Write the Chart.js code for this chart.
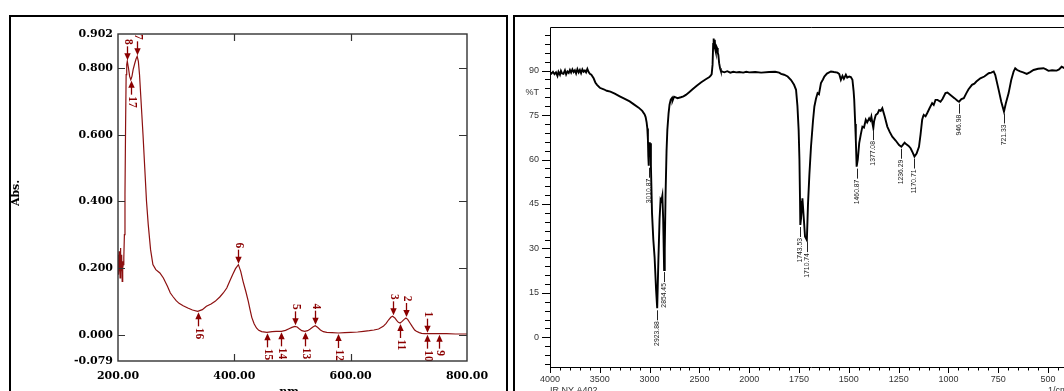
<!DOCTYPE html>
<html><head><meta charset="utf-8">
<script src="https://cdn.jsdelivr.net/npm/chart.js@4/dist/chart.umd.min.js"></script>
<style>
html,body{margin:0;padding:0;background:#fff;overflow:hidden;width:1064px;height:391px}
#wrap{position:relative;width:1064px;height:391px;overflow:hidden;background:#fff}
#uv{position:absolute;left:0;top:0}
#ir{position:absolute;left:511px;top:0}
</style></head>
<body><div id="wrap"><canvas id="uv" width="511" height="391"></canvas><canvas id="ir" width="589" height="391"></canvas></div>
<script>
// ---------- UV-Vis spectrum (left) ----------
const uvNm = [200,200.6,201.2,201.8,202.4,203,203.6,204.2,204.8,205.4,206,206.6,207.2,207.8,208.4,209,210,211,212,213,214,215,216,218,220,222,224,226,229,231,233,235,237,239,241,243,246,249,252,256,260,265,272,278,285,290,295,300,305,312,320,328,337,345,352,360,367,375,381,387,392,397,402,407,411,415,420,424,427,430,434,438,442,447,456,465,472,481,488,494,499,504,508,512,516,521,526,530,535,539,543,548,553,559,568,579,590,600,612,622,632,640,648,656,661,665,669,672,676,679,682,685,688,692,695,698,702,706,710,713,718,722,727,731,740,752,765,780,800];
const uvAbs = [0.20,0.24,0.18,0.25,0.19,0.23,0.17,0.26,0.20,0.22,0.19,0.24,0.16,0.22,0.20,0.21,0.23,0.30,0.42,0.62,0.78,0.81,0.82,0.80,0.775,0.765,0.775,0.795,0.815,0.827,0.835,0.82,0.78,0.72,0.66,0.60,0.50,0.40,0.33,0.255,0.21,0.195,0.185,0.17,0.145,0.125,0.113,0.102,0.094,0.087,0.08,0.074,0.07,0.075,0.085,0.092,0.10,0.113,0.125,0.14,0.16,0.18,0.198,0.21,0.19,0.16,0.128,0.10,0.075,0.052,0.033,0.02,0.013,0.009,0.007,0.009,0.010,0.010,0.013,0.018,0.022,0.025,0.023,0.017,0.012,0.010,0.012,0.016,0.023,0.027,0.022,0.014,0.009,0.007,0.006,0.005,0.006,0.007,0.008,0.010,0.012,0.014,0.017,0.025,0.034,0.044,0.052,0.055,0.050,0.043,0.037,0.035,0.039,0.046,0.050,0.046,0.035,0.024,0.014,0.010,0.006,0.004,0.003,0.003,0.003,0.003,0.003,0.002,0.002];
const uvXTicks = [200,400,600,800];
const uvYTicks = [-0.079,0,0.2,0.4,0.6,0.8,0.902];
const uvPeakNm  = [731,695,672,539,504,407,233,216];
const uvPeakAbs = [0.003,0.05,0.055,0.027,0.025,0.21,0.835,0.82];
const uvPeakNo  = ['1','2','3','4','5','6','7','8'];
const uvValleyNm  = [752,731,685,579,521,481,456,337,222];
const uvValleyAbs = [0.003,0.003,0.035,0.005,0.01,0.01,0.007,0.07,0.765];
const uvValleyNo  = ['9','10','11','12','13','14','15','16','17'];
const uvXTitle = 'nm';
const uvYTitle = 'Abs.';

// ---------- IR spectrum (right) ----------
const irWn = [4000,3985,3970,3955,3940,3925,3915,3900,3890,3878,3865,3850,3838,3825,3812,3800,3788,3775,3762,3750,3738,3725,3712,3700,3688,3675,3662,3650,3638,3625,3612,3600,3585,3562,3545,3528,3500,3461,3430,3394,3350,3300,3259,3200,3158,3110,3074,3050,3040,3030,3023,3017,3013,3010.87,3007,3003,2998,2993,2987,2976,2963,2950,2935,2923.88,2912,2900,2890,2882,2872,2864,2854.45,2848,2840,2830,2822,2810,2800,2788,2775,2770,2754,2720,2687,2660,2636,2600,2569,2530,2485,2440,2400,2385,2377,2368,2362,2357,2352,2346,2340,2336,2328,2323,2316,2310,2302,2293,2285,2276,2250,2220,2190,2160,2130,2100,2060,2030,2000,1970,1940,1900,1870,1850,1840,1825,1807,1790,1775,1765,1758,1752,1748,1745,1743.53,1740,1733,1726,1720,1710.74,1705,1698,1690,1680,1673,1665,1657,1650,1640,1630,1623,1610,1590,1575,1557,1548,1540,1532,1525,1515,1508,1498,1490,1482,1476,1473,1468,1465,1460.87,1455,1448,1440,1432,1424,1415,1408,1398,1392,1387,1381,1377.08,1373,1365,1356,1348,1340,1332,1320,1307,1295,1282,1265,1248,1240,1236.29,1228,1220,1213,1200,1190,1180,1170.71,1160,1148,1140,1132,1126,1123,1115,1107,1095,1082,1074,1065,1055,1040,1030,1015,1005,990,970,955,946.98,935,923,910,900,882,870,860,840,820,798,785,773,765,748,735,721.33,712,698,685,673,665,655,640,625,607,590,573,550,523,510,498,480,457,445,432,420,400];
const irT = [89.5,89.0,89.6,88.8,89.4,88.2,89.6,88.6,89.9,89.0,88.9,90.1,88.7,89.7,89.2,90.2,89.3,90.4,89.5,90.1,89.0,90.5,89.4,90.2,89.1,90.4,89.6,90.0,89.4,90.6,89.5,88.9,88.6,87.4,86.0,85.2,84.2,83.7,83.2,82.9,82.2,81.3,80.6,79.6,78.6,77.5,76.4,75.2,74.3,72.5,70.5,66.6,61,57.9,60.5,65.8,62,65.5,58,42,33,27,16,9.8,26,40,46.5,46,47.8,40,22.7,30,48,63,70,75.5,78.5,80.2,80.8,79.8,81.2,80.7,81,81.3,81.8,82.8,83.7,84.8,86,87,87.8,88.4,88.8,92,99,100.8,97.5,100.4,97,96.4,98,97.6,96,95.3,92.5,90.8,89.9,89.7,89.4,89.8,89.3,89.6,89.4,89.5,89.3,89.6,89.4,89.5,89.3,89.5,89.6,89.3,88.9,88.6,88.0,86.8,85.2,83.5,78,70,60,46,37.9,40,46.9,40,34,32.8,45,55,64.3,73,77.9,80.5,82.4,82,85.8,87,88,89,89.7,89.5,89.3,88.8,86.9,88.2,87.2,88.6,87.6,88,87.8,86.9,83,80.1,72,66.6,57.6,60,65.5,68.5,71.1,70.8,73.4,72.5,73.9,73.2,74.5,72,70.6,73,75,75.5,76.7,76.4,77.3,74.5,71.1,69.3,67.7,66.4,64.9,64.5,64.3,65,65.7,65.2,64.6,63.8,62.4,61,62,64.3,68.5,73.4,74.8,75,74.6,75.6,77.3,79,78.4,80.1,80.1,79.5,80.4,82.4,82.6,81.8,80.7,79.8,79.5,80.4,80.7,82.4,83.6,85.2,85.6,86.3,87.4,88,89.1,89.3,89.7,88.5,83.5,79.5,76.2,79,82.4,86.8,89.7,90.8,90.2,89.7,89.4,88.9,89.5,90.2,90.6,90.8,90.4,89.9,90.1,90,90.4,91.3,90.9,91.1];
const irXTicks = [4000,3500,3000,2500,2000,1750,1500,1250,1000,750,500];
const irYTicks = [0,15,30,45,60,75,90];
const irPeakWn = [3010.87,2923.88,2854.45,1743.53,1710.74,1460.87,1377.08,1236.29,1170.71,946.98,721.33];
const irPeakT  = [57.9,9.8,22.7,37.9,32.8,57.6,70.6,64.3,61.0,79.5,76.2];
const irYTitle = '%T';
const irXTitle = '1/cm';
const irSample = 'IR NY A402';

// wavenumber axis: 4000-2000 compressed by factor 2 relative to 2000-400
const fwd = w => w <= 2000 ? w : 2000 + (w - 2000) / 2;
const inv = u => u <= 2000 ? u : 2000 + (u - 2000) * 2;
class WavenumberScale extends Chart.LinearScale {
  getPixelForValue(v) {
    if (v === null || v === undefined) return NaN;
    const a = fwd(this.min), b = fwd(this.max);
    return this.getPixelForDecimal((fwd(v) - a) / (b - a));
  }
  getValueForPixel(p) {
    const a = fwd(this.min), b = fwd(this.max);
    return inv(a + this.getDecimalForPixel(p) * (b - a));
  }
}
WavenumberScale.id = 'wavenumber';
WavenumberScale.defaults = Chart.LinearScale.defaults;
Chart.register(WavenumberScale);

const white = {id:'white', beforeDraw(c){const g=c.ctx;g.save();g.fillStyle='#fff';g.fillRect(0,0,c.width,c.height);g.restore();}};

const uvDeco = {
  id:'uvDeco',
  afterDatasetsDraw(c){
    const g=c.ctx,a=c.chartArea,xs=c.scales.x,ys=c.scales.y;
    g.save();
    g.beginPath(); g.rect(a.left,a.top-4,a.right-a.left,a.bottom-a.top+4); g.clip();
    g.strokeStyle='#8b0000'; g.fillStyle='#8b0000'; g.lineWidth=1.3;
    g.font='bold 11.5px "Liberation Serif"';
    const mark=(nm,v,txt,dir)=>{
      const x=Math.round(xs.getPixelForValue(nm))+0.5, y=ys.getPixelForValue(v)+dir;
      g.beginPath(); g.moveTo(x,y+dir*14); g.lineTo(x,y+dir*6); g.stroke();
      g.beginPath(); g.moveTo(x,y); g.lineTo(x-3.2,y+dir*7); g.lineTo(x+3.2,y+dir*7); g.closePath(); g.fill();
      const w=g.measureText(txt).width;
      g.save(); g.translate(x, y+dir*(15.5+w/2)); g.rotate(Math.PI/2);
      g.textAlign='center'; g.textBaseline='middle'; g.fillText(txt,0,0); g.restore();
    };
    uvPeakNm.forEach((n,i)=>mark(n,uvPeakAbs[i],uvPeakNo[i],-1));
    uvValleyNm.forEach((n,i)=>mark(n,uvValleyAbs[i],uvValleyNo[i],1));
    g.restore();
  },
  afterDraw(c){
    const g=c.ctx,a=c.chartArea,xs=c.scales.x,ys=c.scales.y;
    g.save();
    g.strokeStyle='#000'; g.lineWidth=2; g.strokeRect(10,16,497,420);
    g.strokeStyle='#333'; g.lineWidth=1.4; g.strokeRect(a.left,a.top,a.right-a.left,a.bottom-a.top);
    g.lineWidth=1.2; g.beginPath();
    uvYTicks.slice(1,-1).forEach(v=>{const y=Math.round(ys.getPixelForValue(v))+0.5;
      g.moveTo(a.left,y); g.lineTo(a.left+7,y); g.moveTo(a.right,y); g.lineTo(a.right-8,y);});
    uvXTicks.slice(1,-1).forEach(v=>{const x=Math.round(xs.getPixelForValue(v))+0.5;
      g.moveTo(x,a.bottom); g.lineTo(x,a.bottom-7); g.moveTo(x,a.top); g.lineTo(x,a.top+7);});
    g.stroke();
    g.fillStyle='#000'; g.font='bold 11px "DejaVu Serif"'; g.textAlign='center'; g.textBaseline='top';
    g.fillText(uvXTitle,289,387);
    g.save(); g.translate(16,193); g.rotate(-Math.PI/2); g.textBaseline='middle'; g.fillText(uvYTitle,0,0); g.restore();
    g.restore();
  }
};

new Chart(document.getElementById('uv'), {
  type:'line',
  data:{datasets:[{data:uvNm.map((x,i)=>({x,y:uvAbs[i]})), borderColor:'#8c1010', borderWidth:1.2, pointRadius:0, tension:0, fill:false}]},
  options:{
    responsive:false, animation:false, devicePixelRatio:1, events:[],
    plugins:{legend:{display:false}, tooltip:{enabled:false}},
    layout:{padding:{left:0,top:34,right:44,bottom:0}},
    scales:{
      x:{type:'linear', min:200, max:800,
         afterFit(s){s.height=30;},
         afterBuildTicks(s){s.ticks=uvXTicks.map(v=>({value:v}));},
         ticks:{callback:v=>Number(v).toFixed(2), autoSkip:false, maxRotation:0, padding:9, color:'#000', font:{family:'DejaVu Serif', weight:'bold', size:11}},
         grid:{display:false, drawTicks:false}, border:{display:false}},
      y:{type:'linear', min:-0.079, max:0.902,
         afterFit(s){s.width=118;},
         afterBuildTicks(s){s.ticks=uvYTicks.map(v=>({value:v}));},
         ticks:{callback:v=>Number(v).toFixed(3), autoSkip:false, padding:5, color:'#000', font:{family:'DejaVu Serif', weight:'bold', size:11}},
         grid:{display:false, drawTicks:false}, border:{display:false}}
    }
  },
  plugins:[white, uvDeco]
});

const irDeco = {
  id:'irDeco',
  afterDatasetsDraw(c){
    const g=c.ctx,xs=c.scales.x,ys=c.scales.y;
    g.save();
    g.strokeStyle='#222'; g.fillStyle='#222'; g.lineWidth=1;
    g.font='6.8px "Liberation Sans"';
    irPeakWn.forEach((w,i)=>{
      const x=Math.round(xs.getPixelForValue(w))+0.5, y=ys.getPixelForValue(irPeakT[i]);
      g.beginPath(); g.moveTo(x,y+2); g.lineTo(x,y+12); g.stroke();
      g.save(); g.translate(x,y+13); g.rotate(-Math.PI/2); g.textAlign='right'; g.textBaseline='middle';
      g.fillText(w.toFixed(2),0,0); g.restore();
    });
    g.restore();
  },
  afterDraw(c){
    const g=c.ctx,a=c.chartArea,xs=c.scales.x,ys=c.scales.y;
    g.save();
    g.strokeStyle='#000'; g.lineWidth=2; g.beginPath(); g.moveTo(3,420); g.lineTo(3,16); g.lineTo(c.width+5,16); g.stroke();
    g.lineWidth=1; g.beginPath();
    g.moveTo(a.left+0.5,a.bottom); g.lineTo(a.left+0.5,a.top+0.5); g.lineTo(a.right+5,a.top+0.5);
    g.moveTo(a.left,a.bottom+0.5); g.lineTo(a.right+5,a.bottom+0.5);
    for(let v=-9; v<=104; v+=3){const y=Math.round(ys.getPixelForValue(v))+0.5; const L=(v%15===0)?8:5; g.moveTo(a.left-L,y); g.lineTo(a.left,y);}
    for(let w=4000; w>=400; w-= (w>2000?100:50)){const x=Math.round(xs.getPixelForValue(w))+0.5; const L=irXTicks.includes(w)?6:3.5; g.moveTo(x,a.bottom); g.lineTo(x,a.bottom+L);}
    g.stroke();
    g.fillStyle='#333'; g.font='9px "Liberation Sans"'; g.textBaseline='middle'; g.textAlign='right';
    g.fillText(irYTitle,a.left-11,93);
    g.textAlign='left'; g.textBaseline='top';
    g.fillText(irSample,a.left,386);
    g.fillText(irXTitle,xs.getPixelForValue(500),386);
    g.restore();
  }
};

new Chart(document.getElementById('ir'), {
  type:'line',
  data:{datasets:[{data:irWn.map((x,i)=>({x,y:irT[i]})), borderColor:'#000', borderWidth:1.9, pointRadius:0, tension:0, fill:false}]},
  options:{
    responsive:false, animation:false, devicePixelRatio:1, events:[],
    plugins:{legend:{display:false}, tooltip:{enabled:false}},
    layout:{padding:{left:0,top:27,right:32,bottom:0}},
    scales:{
      x:{type:'wavenumber', min:400, max:4000, reverse:true,
         afterFit(s){s.height=24;},
         afterBuildTicks(s){s.ticks=irXTicks.map(v=>({value:v}));},
         ticks:{callback:v=>String(v), autoSkip:false, maxRotation:0, padding:7, color:'#333', font:{family:'Liberation Sans', size:9}},
         grid:{display:false, drawTicks:false}, border:{display:false}},
      y:{type:'linear', min:-10, max:104.7,
         afterFit(s){s.width=39;},
         afterBuildTicks(s){s.ticks=irYTicks.map(v=>({value:v}));},
         ticks:{callback:v=>String(v), autoSkip:false, padding:11, color:'#333', font:{family:'Liberation Sans', size:9}},
         grid:{display:false, drawTicks:false}, border:{display:false}}
    }
  },
  plugins:[white, irDeco]
});
</script>
</body></html>
